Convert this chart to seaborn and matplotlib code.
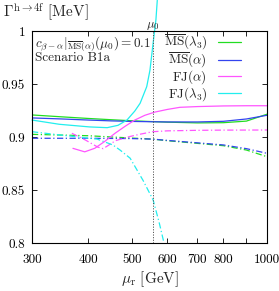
import numpy as np
import pandas as pd
import matplotlib
matplotlib.use("Agg")
import matplotlib.pyplot as plt
import seaborn as sns

# ---------------- data ----------------
mu0 = 557.0

mu_ms = [300, 350, 400, 450, 500, 557, 600, 700, 800, 900, 1000]
ms_lam3_solid = [0.9208, 0.9190, 0.9175, 0.9163, 0.9153, 0.9145, 0.9140, 0.9133, 0.9135, 0.9150, 0.9215]
ms_alpha_solid = [0.9180, 0.9170, 0.9160, 0.9152, 0.9147, 0.9144, 0.9142, 0.9142, 0.9148, 0.9170, 0.9205]

mu_ms_d = [300, 400, 500, 557, 600, 700, 800, 900, 1000]
ms_lam3_dash = [0.9025, 0.9012, 0.8990, 0.8980, 0.8965, 0.8940, 0.8918, 0.8877, 0.8814]
ms_alpha_dash = [0.8988, 0.8988, 0.8985, 0.8980, 0.8968, 0.8945, 0.8925, 0.8890, 0.8846]

mu_fja_s = [370, 393, 414, 436, 459, 483, 508, 535, 563, 600, 640, 700, 800, 900, 1000]
fj_alpha_solid = [0.8893, 0.8860, 0.8894, 0.8960, 0.9035, 0.9100, 0.9160, 0.9205, 0.9235, 0.9260,
                  0.9280, 0.9287, 0.9293, 0.9295, 0.9295]

mu_fja_d = [368, 395, 420, 432, 445, 460, 490, 520, 557, 600, 700, 800, 1000]
fj_alpha_dash = [0.9035, 0.8970, 0.8905, 0.8890, 0.8925, 0.8965, 0.9000, 0.9025, 0.9050, 0.9058,
                 0.9063, 0.9065, 0.9066]

mu_fjl_s = [300, 345, 403, 441, 466, 488, 508, 522, 540, 549, 559, 566, 570]
fj_lam3_solid = [0.9160, 0.9120, 0.9095, 0.9088, 0.9110, 0.9160, 0.9245, 0.9318, 0.9475, 0.9630,
                 0.9915, 1.0104, 1.0290]

mu_fjl_d = [300, 345, 419, 454, 471, 496, 530, 558, 575, 590]
fj_lam3_dash = [0.9050, 0.9020, 0.8980, 0.8925, 0.8877, 0.8800, 0.8590, 0.8406, 0.8200, 0.8000]

x_ticks = [300, 400, 500, 600, 700, 800, 900, 1000]
x_ticklabels = ["300", "400", "500", "600", "700", "800", "", "1000"]
y_ticks = [0.8, 0.85, 0.9, 0.95, 1.0]
y_ticklabels = ["0.8", "0.85", "0.9", "0.95", "1"]

# ---------------- style ----------------
sns.set_style("ticks")
plt.rcParams["font.family"] = ["cmr10", "DejaVu Serif"]
plt.rcParams["mathtext.fontset"] = "cm"
plt.rcParams["axes.formatter.use_mathtext"] = True

GREEN = "#22dd22"
BLUE = "#3344ee"
MAGENTA = "#ff55ff"
CYAN = "#22eeee"
DASHDOT = (0, (5, 2, 1, 2))

fig = plt.figure(figsize=(2.79, 2.91), dpi=100)
ax = fig.add_axes([32 / 279, 1 - 243 / 291, 235 / 279, 212 / 291])


def draw(x, y, color, ls, label=None, clip=True):
    df = pd.DataFrame({"mu": x, "gamma": y})
    kw = dict(data=df, x="mu", y="gamma", ax=ax, color=color, lw=0.9,
              sort=False, estimator=None)
    if label is not None:
        kw["label"] = label
    else:
        kw["legend"] = False
    sns.lineplot(**kw)
    line = ax.get_lines()[-1]
    line.set_linestyle(ls)
    line.set_clip_on(clip)
    return line


draw(mu_ms_d, ms_lam3_dash, GREEN, DASHDOT)
draw(mu_ms_d, ms_alpha_dash, BLUE, DASHDOT)
draw(mu_fja_d, fj_alpha_dash, MAGENTA, DASHDOT)
draw(mu_fjl_d, fj_lam3_dash, CYAN, DASHDOT)

l1 = draw(mu_ms, ms_lam3_solid, GREEN, "-", r"$\overline{\mathrm{MS}}$($\lambda_3$)")
l2 = draw(mu_ms, ms_alpha_solid, BLUE, "-", r"$\overline{\mathrm{MS}}$($\alpha$)")
l3 = draw(mu_fja_s, fj_alpha_solid, MAGENTA, "-", r"FJ($\alpha$)")
l4 = draw(mu_fjl_s, fj_lam3_solid, CYAN, "-", r"FJ($\lambda_3$)", clip=False)

ax.axvline(mu0, color="#555555", ls=(0, (1.2, 1.5)), lw=0.7)

ax.set_xscale("log")
ax.set_xlim(300, 1000)
ax.set_ylim(0.8, 1.0)
ax.xaxis.set_major_locator(matplotlib.ticker.FixedLocator(x_ticks))
ax.xaxis.set_minor_locator(matplotlib.ticker.NullLocator())
ax.set_xticklabels(x_ticklabels)
ax.set_yticks(y_ticks)
ax.set_yticklabels(y_ticklabels)
ax.tick_params(direction="in", top=True, right=True, length=3.5, width=0.6,
               labelsize=9.5, pad=5, colors="black")
ax.tick_params(axis="x", pad=8)
for s in ax.spines.values():
    s.set_linewidth(0.8)
    s.set_color("black")
ax.set_xlabel("")
ax.set_ylabel("")

fig.text(3 / 279, 1 - 12 / 291, r"$\Gamma^{\mathrm{h}\rightarrow 4\mathrm{f}}\ [\mathrm{MeV}]$",
         fontsize=11, ha="left", va="center")
fig.text(150 / 279, 1 - 279 / 291, r"$\mu_{\mathrm{r}}\ [\mathrm{GeV}]$",
         fontsize=11, ha="center", va="center")

ax.text(mu0, 0.995, r"$\mu_0$", transform=ax.get_xaxis_transform(), ha="center",
        va="bottom", fontsize=9)
ax.text(0.013, 0.985, r"$c_{\beta-\alpha}|_{\overline{\mathrm{MS}}(\alpha)}(\mu_0) = 0.1$",
        transform=ax.transAxes, ha="left", va="top", fontsize=9.5)
ax.text(0.013, 0.9, "Scenario B1a", transform=ax.transAxes, ha="left", va="top",
        fontsize=9.5)

ax.legend(handles=[l1, l2, l3, l4], loc="upper right", frameon=False, markerfirst=False,
          fontsize=9.5, handlelength=1.8, labelspacing=-0.1, borderaxespad=0.1,
          borderpad=0.15, handletextpad=0.8, bbox_to_anchor=(0.905, 1.005))

fig.savefig("out.png", dpi=100)
